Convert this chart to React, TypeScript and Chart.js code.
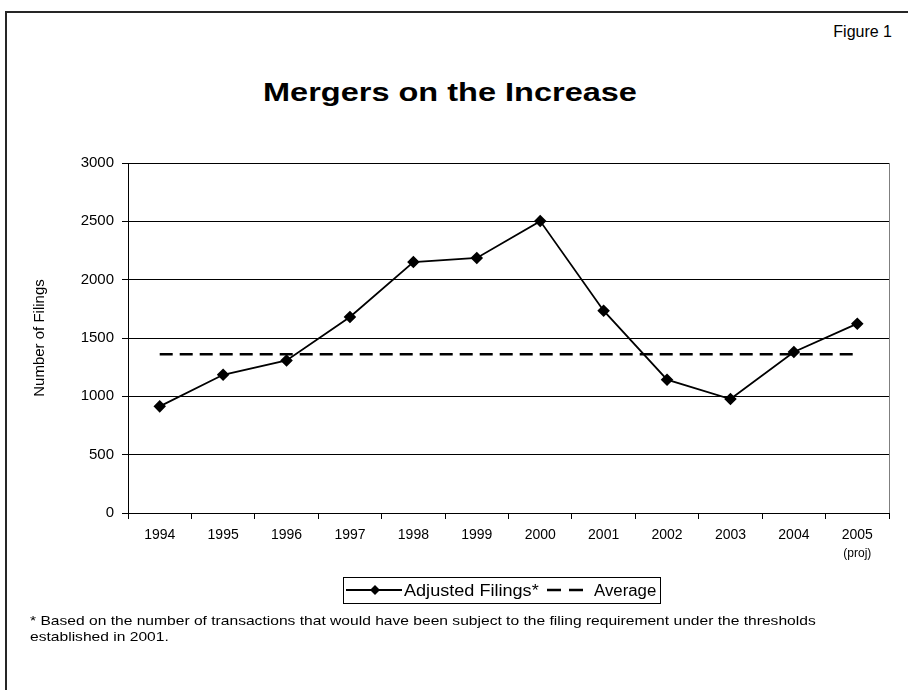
import React, { useEffect, useRef } from "react";
import { Chart, registerables } from "chart.js";

Chart.register(...registerables);

const years = ["1994", "1995", "1996", "1997", "1998", "1999", "2000", "2001", "2002", "2003", "2004", "2005"];
const adjustedFilings = [914, 1185, 1308, 1680, 2151, 2186, 2502, 1734, 1143, 977, 1380, 1623];
const averageFilings = [1360, 1360, 1360, 1360, 1360, 1360, 1360, 1360, 1360, 1360, 1360, 1360];
const yTicks = [0, 500, 1000, 1500, 2000, 2500, 3000];
const projNote = "(proj)";

const FONT = "'Liberation Sans', Arial, Helvetica, sans-serif";

const extrasPlugin = {
  id: "extras",
  afterDraw(chart: any) {
    const { ctx, chartArea, scales } = chart;
    ctx.save();
    ctx.strokeStyle = "#7f7f7f";
    ctx.lineWidth = 1;
    ctx.beginPath();
    ctx.moveTo(chartArea.right + 0.5, chartArea.top);
    ctx.lineTo(chartArea.right + 0.5, chartArea.bottom);
    ctx.stroke();
    const x = scales.x.getPixelForValue(years.length - 1);
    ctx.fillStyle = "#000";
    ctx.font = `12px ${FONT}`;
    ctx.textAlign = "center";
    ctx.textBaseline = "middle";
    ctx.fillText(projNote, x, scales.x.top + 41);
    ctx.restore();
  },
};

function ChartCanvas() {
  const ref = useRef<HTMLCanvasElement | null>(null);
  useEffect(() => {
    if (!ref.current) return;
    const chart = new Chart(ref.current, {
      type: "line",
      data: {
        labels: years,
        datasets: [
          {
            label: "Adjusted Filings*",
            data: adjustedFilings,
            borderColor: "#000",
            backgroundColor: "#000",
            borderWidth: 1.8,
            pointStyle: "rectRot",
            pointRadius: 5,
            pointHoverRadius: 5,
            pointBackgroundColor: "#000",
            pointBorderColor: "#000",
            tension: 0,
          },
          {
            label: "Average",
            data: averageFilings,
            borderColor: "#000",
            borderWidth: 2.5,
            borderDash: [13, 7],
            pointRadius: 0,
            tension: 0,
          },
        ],
      },
      options: {
        animation: false,
        responsive: true,
        maintainAspectRatio: false,
        layout: { padding: { top: 163, left: 0, right: 19, bottom: 117 } },
        plugins: {
          legend: { display: false },
          tooltip: { enabled: false },
          title: { display: false },
        },
        scales: {
          x: {
            type: "category",
            offset: true,
            afterFit: (s: any) => {
              s.height = 60;
            },
            grid: {
              offset: true,
              drawOnChartArea: false,
              drawTicks: true,
              tickLength: 6,
              color: "#000",
            },
            border: { display: true, color: "#000", width: 1 },
            ticks: {
              color: "#000",
              font: { family: FONT, size: 14 },
              padding: 8,
              maxRotation: 0,
              autoSkip: false,
            },
          },
          y: {
            min: 0,
            max: 3000,
            afterFit: (s: any) => {
              s.width = 128;
            },
            afterBuildTicks: (s: any) => {
              s.ticks = yTicks.map((v) => ({ value: v }));
            },
            grid: {
              color: "#000",
              lineWidth: 1,
              drawTicks: true,
              tickLength: 6,
            },
            border: { display: true, color: "#000", width: 1 },
            ticks: {
              color: "#000",
              font: { family: FONT, size: 15 },
              padding: 8,
              callback: (v: any) => String(v),
            },
            title: {
              display: true,
              text: "Number of Filings",
              color: "#000",
              font: { family: FONT, size: 15 },
              padding: { top: 31, bottom: 0 },
            },
          },
        },
      },
      plugins: [extrasPlugin],
    });
    return () => chart.destroy();
  }, []);
  return (
    <div style={{ position: "absolute", left: 0, top: 0, width: 908, height: 690 }}>
      <canvas ref={ref} />
    </div>
  );
}

function LegendBox() {
  return (
    <div
      style={{
        position: "absolute",
        left: 343,
        top: 577,
        width: 318,
        height: 27,
        boxSizing: "border-box",
        border: "1px solid #000",
        fontSize: 16,
        color: "#000",
        whiteSpace: "nowrap",
      }}
    >
      <svg width="56" height="14" style={{ position: "absolute", left: 2, top: 5 }}>
        <line x1="0" y1="7" x2="56" y2="7" stroke="#000" strokeWidth="1.8" />
        <polygon points="29,2 34,7 29,12 24,7" fill="#000" />
      </svg>
      <span
        style={{
          position: "absolute",
          left: 60,
          top: 3,
          lineHeight: "19px",
          transform: "scaleX(1.13)",
          transformOrigin: "left center",
        }}
      >
        Adjusted Filings*
      </span>
      <svg width="42" height="14" style={{ position: "absolute", left: 203, top: 5 }}>
        <line x1="0" y1="7" x2="42" y2="7" stroke="#000" strokeWidth="2.5" strokeDasharray="14 8" />
      </svg>
      <span
        style={{
          position: "absolute",
          left: 250,
          top: 3,
          lineHeight: "19px",
          transform: "scaleX(1.05)",
          transformOrigin: "left center",
        }}
      >
        Average
      </span>
    </div>
  );
}

export default function App() {
  return (
    <div
      style={{
        position: "fixed",
        left: 0,
        top: 0,
        width: 908,
        height: 690,
        overflow: "hidden",
        background: "#fff",
        fontFamily: FONT,
        color: "#000",
      }}
    >
      <div style={{ position: "absolute", right: 16, top: 22, fontSize: 16, lineHeight: "20px" }}>Figure 1</div>
      <div
        style={{
          position: "absolute",
          left: -4,
          top: 76,
          width: 908,
          textAlign: "center",
          fontSize: 25,
          fontWeight: "bold",
          lineHeight: "32px",
          transform: "scaleX(1.3)",
          transformOrigin: "454px center",
        }}
      >
        Mergers on the Increase
      </div>
      <ChartCanvas />
      <LegendBox />
      <div
        style={{
          position: "absolute",
          left: 30,
          top: 613,
          fontSize: 13,
          lineHeight: "16px",
          whiteSpace: "nowrap",
          transform: "scaleX(1.2)",
          transformOrigin: "left top",
        }}
      >
        * Based on the number of transactions that would have been subject to the filing requirement under the thresholds
        <br />
        established in 2001.
      </div>
      <div style={{ position: "absolute", left: 5, top: 11, width: 903, height: 2, background: "#262626", zIndex: 5 }} />
      <div style={{ position: "absolute", left: 5, top: 11, width: 2, height: 679, background: "#262626", zIndex: 5 }} />
    </div>
  );
}
